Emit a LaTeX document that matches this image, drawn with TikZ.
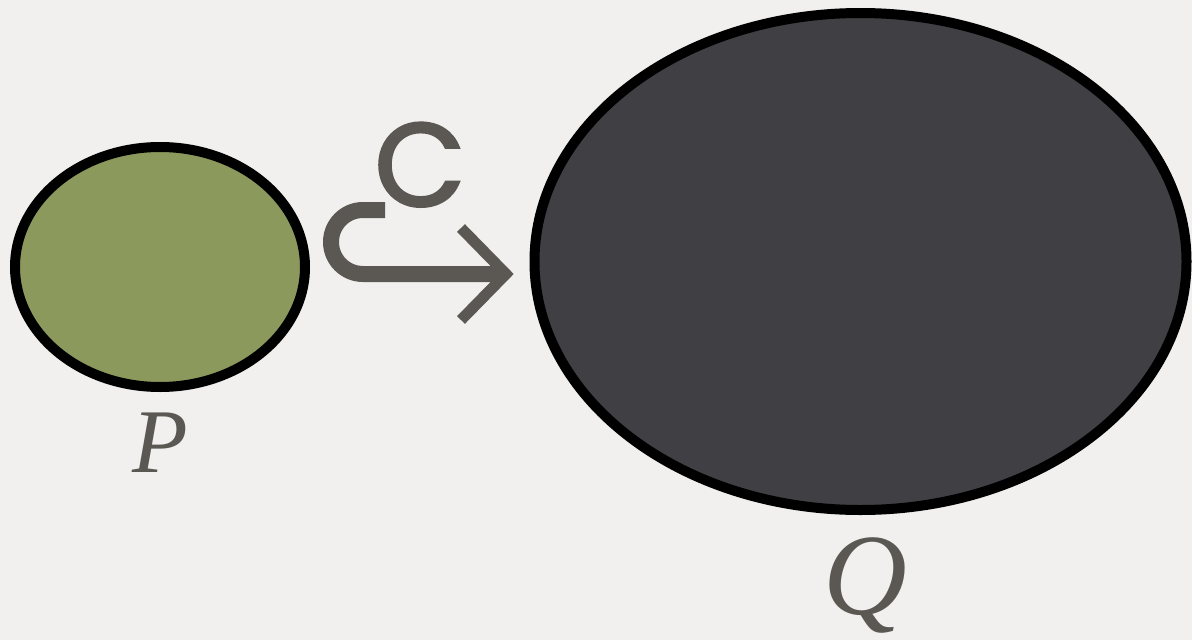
\documentclass[tikz,border=0pt]{standalone}
\usepackage{fontspec}
\setmainfont{Liberation Serif}
\newfontfamily\labelsans[BoldFont=Poppins, BoldFeatures={FakeBold=2.2}]{Poppins}
\definecolor{bg}{HTML}{F1F0EE}
\definecolor{pgreen}{HTML}{8B9A5C}
\definecolor{qdark}{HTML}{403F44}
\definecolor{ink}{HTML}{5B5854}
\tikzset{
  setblob/.style={draw=black, line width=10pt},
  setlabel/.style={text=ink, font=\itshape, anchor=base, inner sep=0pt},
  hookline/.style={draw=ink, line width=16pt},
  barb/.style={draw=ink, line width=11pt, line join=miter, miter limit=10},
}
\begin{document}
\begin{tikzpicture}[x=1pt,y=-1pt]
\fill[bg] (0,0) rectangle (1192,640);
\useasboundingbox (0,0) rectangle (1192,640);
% sets
\filldraw[setblob, fill=pgreen] (160,267) ellipse [x radius=145, y radius=120];
\filldraw[setblob, fill=qdark] (860.5,261.5) ellipse [x radius=326, y radius=248.5];
\node[setlabel, font=\fontsize{91}{91}\selectfont\itshape] (P) at (160,472) {P};
\node[setlabel, font=\fontsize{116}{116}\selectfont\itshape] (Q) at (865,614) {Q};
% inclusion arrow
\coordinate (hs) at (385,210);
\coordinate (tip) at (506,274);
\draw[hookline] (hs) -- (363,210) arc[start angle=270, end angle=90, radius=32] -- (500,274);
\coordinate (b1) at (461,228);
\coordinate (b2) at (461,320);
\draw[barb] (b1) -- (tip) -- (b2);
\node[text=ink, anchor=base, inner sep=0pt, font=\fontsize{118}{118}\selectfont\labelsans\bfseries] (C) at (420,206) {C};
\end{tikzpicture}
\end{document}
